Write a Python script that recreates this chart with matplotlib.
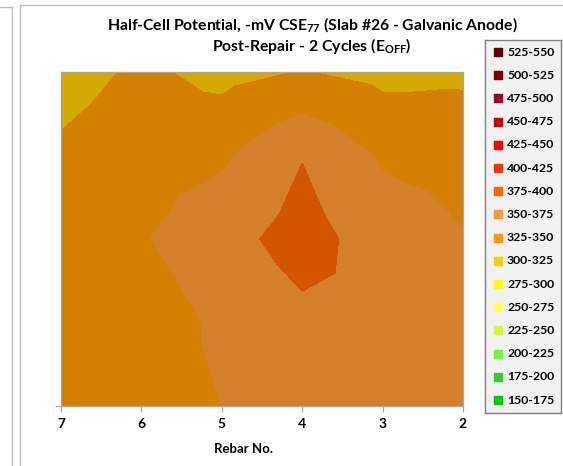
import numpy as np
import matplotlib.pyplot as plt
import matplotlib.tri as mtri
from matplotlib.lines import Line2D

plt.rcParams['font.family'] = ['Lato', 'DejaVu Sans']
plt.rcParams['mathtext.fontset'] = 'custom'
plt.rcParams['mathtext.rm'] = 'Lato:bold'
plt.rcParams['mathtext.default'] = 'rm'

# Rebar numbers across the slab (left to right in the chart)
rebar = [7, 6, 5, 4, 3, 2]

# Half-cell readings (-mV CSE), one list per grid line, top of chart first
row_a = [313, 330, 317, 326, 318, 320]
row_b = [330, 342, 346, 374, 347, 343]
row_c = [338, 348, 366, 385, 363, 351]
row_d = [335, 335, 355, 369, 374, 358]
row_e = [333, 340, 350, 362, 360, 357]

# Legend bins (low to high) and Excel colours
bins = ['150-175', '175-200', '200-225', '225-250', '250-275', '275-300',
        '300-325', '325-350', '350-375', '375-400', '400-425', '425-450',
        '450-475', '475-500', '500-525', '525-550']
bin_colors = ['#00CC00', '#33CC33', '#66FF33', '#CCFF33', '#FFFF66', '#FFFF00',
              '#FFCC00', '#FF9900', '#FF9933', '#FF6600', '#FF3300', '#FF0000',
              '#CC0000', '#A50021', '#800000', '#660000']
levels = list(range(150, 551, 25))

# surface is drawn a bit darker than the legend (Excel's 3D lighting)
shade = 0.83
surf_colors = []
for c in bin_colors:
    r, g, b = [int(c[i:i + 2], 16) / 255 for i in (1, 3, 5)]
    surf_colors.append((r * shade, g * shade, b * shade))

rows = [row_a, row_b, row_c, row_d, row_e]
nr, nc = len(rows), len(rebar)
Z = np.array(rows, dtype=float)
xs = np.array(rebar, dtype=float)
ys = np.arange(nr)[::-1].astype(float)  # top row drawn at the top

# Excel splits every grid cell into four triangles around its centre
px, py, pz = [], [], []
for i in range(nr):
    for j in range(nc):
        px.append(xs[j]); py.append(ys[i]); pz.append(Z[i, j])
triangles = []
for i in range(nr - 1):
    for j in range(nc - 1):
        k = len(px)
        px.append((xs[j] + xs[j + 1]) / 2)
        py.append((ys[i] + ys[i + 1]) / 2)
        pz.append(Z[i:i + 2, j:j + 2].mean())
        a, b = i * nc + j, i * nc + j + 1
        c, d = (i + 1) * nc + j + 1, (i + 1) * nc + j
        triangles += [[a, b, k], [b, c, k], [c, d, k], [d, a, k]]
tri = mtri.Triangulation(px, py, triangles)

fig = plt.figure(figsize=(5.63, 4.66), dpi=100)
W, H = 563, 466

# frames around the chart
frame = '#BFBFBF'
fig.add_artist(Line2D([20 / W, 20 / W], [0, 1 - 5 / H], color=frame, lw=1))
fig.add_artist(Line2D([20 / W, 1], [1 - 5 / H, 1 - 5 / H], color=frame, lw=1))
fig.add_artist(Line2D([12 / W, 12 / W], [0, 1 - 7 / H], color=frame, lw=1))
fig.add_artist(Line2D([0, 12 / W], [1 - 7 / H, 1 - 7 / H], color=frame, lw=1))

ax = fig.add_axes([61 / W, 60 / H, 402 / W, 334 / H])
ax.tricontourf(tri, pz, levels=levels, colors=surf_colors, antialiased=False)
ax.set_xlim(7, 2)
ax.set_ylim(0, nr - 1)

for s in ax.spines.values():
    s.set_color('#A6A6A6')
    s.set_linewidth(0.9)
ax.set_xticks(rebar)
ax.set_xticklabels([str(r) for r in rebar], fontweight='bold', fontsize=10)
ax.set_yticks([0])
ax.set_yticklabels([''])
ax.tick_params(axis='both', color='#A6A6A6', length=4, width=0.9, pad=5)
ax.set_xlabel('Rebar No.', fontweight='bold', fontsize=9.5)
ax.xaxis.set_label_coords((243 - 61) / 402, -(443 - 406) / 334)

fig.text(312 / W, 1 - 25 / H, 'Half-Cell Potential, -mV CSE$_{77}$ (Slab #26 - Galvanic Anode)',
         ha='center', va='center', fontsize=11.3, fontweight='bold')
fig.text(312 / W, 1 - 46 / H, 'Post-Repair - 2 Cycles (E$_{OFF}$)',
         ha='center', va='center', fontsize=11.3, fontweight='bold')

# legend box, highest bin on top
lax = fig.add_axes([485 / W, 53 / H, 76 / W, 373 / H])
lax.set_facecolor('#F2F2F2')
for s in lax.spines.values():
    s.set_color('#7F7F7F')
    s.set_linewidth(1)
lax.set_xticks([])
lax.set_yticks([])
lax.set_xlim(485, 561)
lax.set_ylim(413, 40)
for n, (lab, col) in enumerate(zip(bins[::-1], bin_colors[::-1])):
    y = 52 + n * 23.2
    lax.scatter([498], [y], marker='s', s=28, color=col)
    lax.text(507, y, lab, ha='left', va='center', fontsize=8.8, fontweight='bold')

fig.savefig('out.png', dpi=100)
